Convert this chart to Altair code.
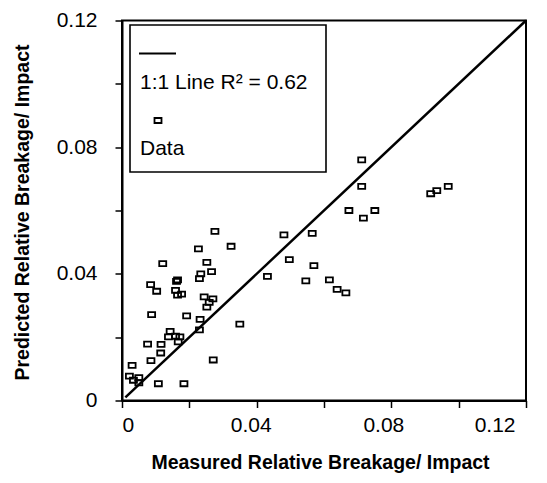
import altair as alt
import pandas as pd

# Measured vs predicted relative breakage per impact
measured = [
    0.0276, 0.0324, 0.0227, 0.0121, 0.0252, 0.0234, 0.0266, 0.0230, 0.0432, 0.0165,
    0.0162, 0.0085, 0.0103, 0.0159, 0.0165, 0.0177, 0.0244, 0.0270, 0.0259, 0.0252,
    0.0088, 0.0192, 0.0232, 0.0350, 0.0143, 0.0138, 0.0159, 0.0172, 0.0167, 0.0230,
    0.0076, 0.0116, 0.0115, 0.0030, 0.0086, 0.0271, 0.0022, 0.0034, 0.0050, 0.0050,
    0.0108, 0.0184,
    0.0481, 0.0565, 0.0497, 0.0570, 0.0546, 0.0616, 0.0639, 0.0665, 0.0674, 0.0717,
    0.0751, 0.0712, 0.0712, 0.0917, 0.0935, 0.0969,
]
predicted = [
    0.0534, 0.0487, 0.0479, 0.0432, 0.0436, 0.0400, 0.0407, 0.0385, 0.0392, 0.0381,
    0.0376, 0.0366, 0.0345, 0.0348, 0.0333, 0.0336, 0.0327, 0.0321, 0.0310, 0.0295,
    0.0271, 0.0267, 0.0256, 0.0241, 0.0218, 0.0201, 0.0203, 0.0201, 0.0185, 0.0223,
    0.0178, 0.0177, 0.0150, 0.0111, 0.0126, 0.0128, 0.0077, 0.0064, 0.0072, 0.0056,
    0.0053, 0.0053,
    0.0523, 0.0528, 0.0445, 0.0426, 0.0378, 0.0381, 0.0351, 0.0340, 0.0600, 0.0576,
    0.0600, 0.0760, 0.0676, 0.0653, 0.0663, 0.0676,
]
# 1:1 line end points
line_x = [0.001, 0.12]
line_y = [0.001, 0.12]

x_ticks = [0, 0.02, 0.04, 0.06, 0.08, 0.10, 0.12]
y_ticks = [0, 0.02, 0.04, 0.06, 0.08, 0.10, 0.12]

legend_line_label = "1:1 Line R\u00b2 = 0.62"
legend_data_label = "Data"
x_title = "Measured Relative Breakage/ Impact"
y_title = "Predicted Relative Breakage/ Impact"

FONT = "Liberation Sans"
SQUARE = "M-1,-0.72L1,-0.72L1,0.72L-1,0.72Z"

pts = pd.DataFrame({"measured": measured, "predicted": predicted})
diag = pd.DataFrame({"measured": line_x, "predicted": line_y})
one = pd.DataFrame({"k": [0]})

xscale = alt.Scale(domain=[0, 0.12], nice=False, zero=False)
yscale = alt.Scale(domain=[0, 0.12], nice=False, zero=False)

label_expr = "round(datum.value*100) % 4 == 0 ? datum.label : ''"

xaxis = alt.Axis(
    title=x_title, values=x_ticks, format="~g", labelExpr=label_expr,
    grid=False, labelPadding=7, labelAngle=0,
    labelOffset={"condition": [
        {"test": "datum.value > 0.11", "value": -11},
        {"test": "datum.value > 0.07", "value": -8},
        {"test": "datum.value > 0.03", "value": -6},
    ], "value": 0},
    titleX=198, titleY=62, titleBaseline="middle", titleAlign="center",
)
yaxis = alt.Axis(
    title=y_title, values=y_ticks, format="~g", labelExpr=label_expr,
    grid=False, labelPadding=18,
    titleX=-100, titleY=191.5, titleBaseline="middle", titleAlign="center", titleAngle=270,
)

points = alt.Chart(pts).mark_point(
    shape=SQUARE, size=49, filled=False, color="black", strokeWidth=1.8, opacity=1
).encode(
    x=alt.X("measured:Q", scale=xscale, axis=xaxis),
    y=alt.Y("predicted:Q", scale=yscale, axis=yaxis),
)

line = alt.Chart(diag).mark_line(color="black", strokeWidth=2.5).encode(
    x=alt.X("measured:Q", scale=xscale),
    y=alt.Y("predicted:Q", scale=yscale),
)

leg_box = alt.Chart(one).mark_rect(fill="white", stroke="black", strokeWidth=1.6).encode(
    x=alt.value(8), x2=alt.value(204), y=alt.value(4.5), y2=alt.value(151.5)
)
leg_line = alt.Chart(one).mark_rule(color="black", strokeWidth=2).encode(
    x=alt.value(17), x2=alt.value(54), y=alt.value(33)
)
leg_line_text = alt.Chart(one).mark_text(
    align="left", baseline="alphabetic", font=FONT, fontSize=21, color="black"
).encode(x=alt.value(18), y=alt.value(68), text=alt.value(legend_line_label))
leg_sq = alt.Chart(one).mark_point(
    shape=SQUARE, size=49, filled=False, color="black", strokeWidth=1.8, opacity=1
).encode(x=alt.value(36), y=alt.value(100))
leg_data_text = alt.Chart(one).mark_text(
    align="left", baseline="alphabetic", font=FONT, fontSize=21, color="black"
).encode(x=alt.value(18), y=alt.value(134.5), text=alt.value(legend_data_label))

chart = alt.layer(
    points, line, leg_box, leg_line, leg_line_text, leg_sq, leg_data_text
).properties(
    width=404, height=380,
    background="white",
    autosize=alt.AutoSizeParams(type="none"),
    padding={"left": 114, "top": 12.5, "right": 13, "bottom": 74.5},
).configure_view(
    stroke="black", strokeWidth=2
).configure_axis(
    domainColor="black", domainWidth=2, tickColor="black", tickWidth=1.5, tickSize=7,
    labelFont=FONT, labelFontSize=21, labelColor="black",
    titleFont=FONT, titleFontWeight="bold", titleFontSize=19.5, titleColor="black",
)

chart.save("out.html", embed_options={"renderer": "svg", "actions": False})
